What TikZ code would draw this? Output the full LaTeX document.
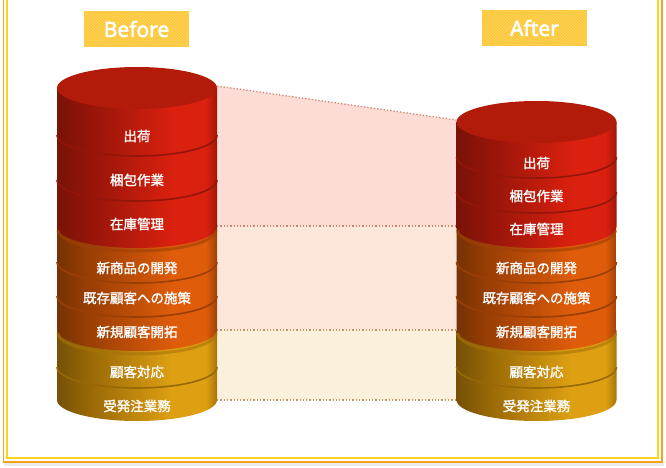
\documentclass[tikz,border=0pt]{standalone}
\usepackage{fontspec}
\setmainfont{Noto Sans}
\newfontfamily\jp{Noto Sans CJK JP}[FakeBold=1.6]
\newfontfamily\tagf{Noto Sans}[FakeBold=2.2]
\usetikzlibrary{patterns}
\definecolor{rA}{HTML}{7A1208}\definecolor{rB}{HTML}{941509}\definecolor{rC}{HTML}{DA200E}\definecolor{rD}{HTML}{A01709}
\definecolor{oA}{HTML}{763204}\definecolor{oB}{HTML}{9A3E05}\definecolor{oC}{HTML}{DE5C0A}\definecolor{oD}{HTML}{A04006}
\definecolor{yA}{HTML}{765006}\definecolor{yB}{HTML}{986806}\definecolor{yC}{HTML}{DEA012}\definecolor{yD}{HTML}{A87408}
\definecolor{rtop}{HTML}{B21A0A}
\definecolor{pinkfill}{HTML}{FCDCD4}\definecolor{peachfill}{HTML}{FDE6DA}\definecolor{creamfill}{HTML}{FBF0DC}
\definecolor{pinkdot}{HTML}{D08474}\definecolor{tandot}{HTML}{C09868}
\definecolor{tagY}{HTML}{FDC837}\definecolor{frameO}{HTML}{F7A21B}\definecolor{frameY}{HTML}{FFD21E}
\pgfdeclarehorizontalshading{redcyl}{100bp}{color(0bp)=(rA);color(25bp)=(rA);color(35bp)=(rB);color(61bp)=(rC);color(71.5bp)=(rC);color(75bp)=(rD);color(100bp)=(rD)}
\pgfdeclarehorizontalshading{orgcyl}{100bp}{color(0bp)=(oA);color(25bp)=(oA);color(35bp)=(oB);color(61bp)=(oC);color(71.5bp)=(oC);color(75bp)=(oD);color(100bp)=(oD)}
\pgfdeclarehorizontalshading{yelcyl}{100bp}{color(0bp)=(yA);color(25bp)=(yA);color(35bp)=(yB);color(61bp)=(yC);color(71.5bp)=(yC);color(75bp)=(yD);color(100bp)=(yD)}
\tikzset{
  lbl/.style={text=white,font=\jp\fontsize{13.5}{13.5}\selectfont,inner sep=0pt},
  tag/.style={fill=tagY,text=white,font=\tagf\fontsize{21}{21}\selectfont,minimum width=105pt,minimum height=36pt,inner sep=0pt},
  dots/.style={dotted,line width=1.3pt},
}
\newcommand\cylseg[4]{%
  \shade[shading=#4] (#1-80,-#2) -- (#1-80,-#3) arc[start angle=180,end angle=360,x radius=80,y radius=21] -- (#1+80,-#2) -- cycle;}
\newcommand\cyldiv[3]{%
  \draw[#3,line width=1.6pt] (#1-80,-#2) arc[start angle=180,end angle=360,x radius=80,y radius=21];}
\newcommand\cyllip[3]{%
  \draw[#3,line width=3pt,opacity=.6] (#1-79,-#2-3) arc[start angle=180,end angle=360,x radius=79,y radius=21];}
\begin{document}
\begin{tikzpicture}[x=1pt,y=1pt]
\useasboundingbox (0,0) rectangle (666,-468);
\fill[white] (0,0) rectangle (666,-468);
\fill[black!8] (4,-463) rectangle (664,-466);
\draw[frameO,line width=1.5pt] (3.5,0) -- (3.5,-462) -- (662,-462) -- (662,0);
\draw[frameY,line width=2pt] (7,0) -- (7,-458) -- (658,-458) -- (658,0);
\node[tag] (before) at (136.5,-29) {Before};
\node[tag] (after) at (534.5,-28) {After};
\fill[pattern=north east lines,pattern color=white,opacity=.25] (before.south west) rectangle (before.north east);
\fill[pattern=north east lines,pattern color=white,opacity=.25] (after.south west) rectangle (after.north east);
\coordinate (l1) at (217,-86); \coordinate (r1) at (456.5,-120);
\coordinate (l2) at (217,-226); \coordinate (r2) at (456.5,-226);
\coordinate (l3) at (217,-330); \coordinate (r3) at (456.5,-330);
\coordinate (l4) at (217,-400); \coordinate (r4) at (456.5,-400);
\fill[pinkfill] (l1) -- (r1) -- (r2) -- (l2) -- cycle;
\fill[peachfill] (l2) -- (r2) -- (r3) -- (l3) -- cycle;
\fill[creamfill] (l3) -- (r3) -- (r4) -- (l4) -- cycle;
\draw[dots,pinkdot] (l1) -- (r1);
\draw[dots,pinkdot] (l2) -- (r2);
\draw[dots,tandot] (l3) -- (r3);
\draw[dots,tandot] (l4) -- (r4);
% left cylinder
\cylseg{137}{330}{400}{yelcyl}
\cyldiv{137}{367}{yB}
\cylseg{137}{227}{330}{orgcyl}
\cyllip{137}{330}{yD}
\cyldiv{137}{262}{oB}
\cyldiv{137}{296}{oB}
\cylseg{137}{88}{227}{redcyl}
\cyllip{137}{227}{oD}
\cyldiv{137}{135}{rB}
\cyldiv{137}{180}{rB}
\fill[rtop] (137,-88) ellipse[x radius=80,y radius=21];
% right cylinder
\cylseg{536.5}{330}{400}{yelcyl}
\cyldiv{536.5}{367}{yB}
\cylseg{536.5}{227}{330}{orgcyl}
\cyllip{536.5}{330}{yD}
\cyldiv{536.5}{262}{oB}
\cyldiv{536.5}{296}{oB}
\cylseg{536.5}{122}{227}{redcyl}
\cyllip{536.5}{227}{oD}
\cyldiv{536.5}{157}{rB}
\cyldiv{536.5}{192}{rB}
\fill[rtop] (536.5,-122) ellipse[x radius=80,y radius=21];
\node[lbl] (a1) at (137,-136) {出荷};
\node[lbl] (a2) at (137,-180) {梱包作業};
\node[lbl] (a3) at (137,-224) {在庫管理};
\node[lbl] (a4) at (137,-268) {新商品の開発};
\node[lbl] (a5) at (137,-298) {既存顧客への施策};
\node[lbl] (a6) at (137,-332) {新規顧客開拓};
\node[lbl] (a7) at (137,-372) {顧客対応};
\node[lbl] (a8) at (137,-406) {受発注業務};
\node[lbl] (b1) at (536.5,-163) {出荷};
\node[lbl] (b2) at (536.5,-196) {梱包作業};
\node[lbl] (b3) at (536.5,-229) {在庫管理};
\node[lbl] (b4) at (536.5,-268) {新商品の開発};
\node[lbl] (b5) at (536.5,-298) {既存顧客への施策};
\node[lbl] (b6) at (536.5,-332) {新規顧客開拓};
\node[lbl] (b7) at (536.5,-372) {顧客対応};
\node[lbl] (b8) at (536.5,-406) {受発注業務};
\end{tikzpicture}
\end{document}
